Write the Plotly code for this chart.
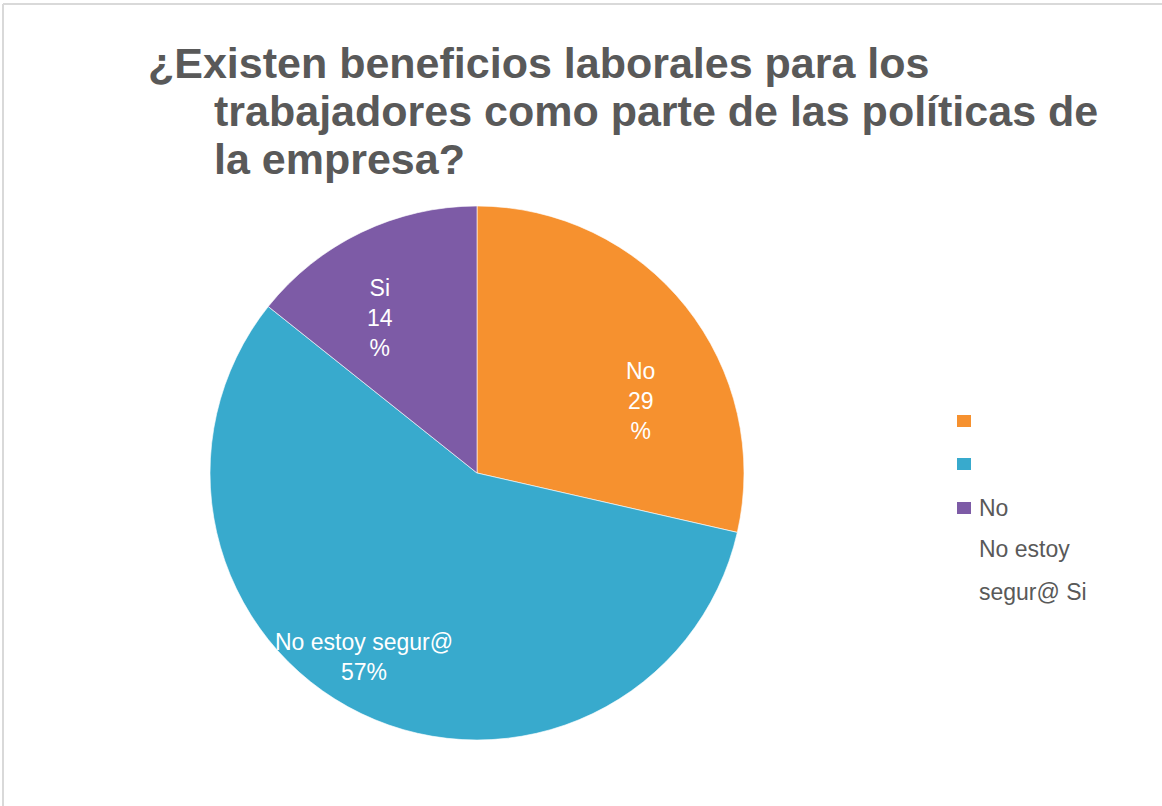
import math
import plotly.graph_objects as go

# ---- data ----
labels = ["No", "No estoy segur@", "Si"]
values = [2, 4, 1]
colors = ["#F6912F", "#38AACD", "#7D5BA6"]
title_lines = ["¿Existen beneficios laborales para los",
               "trabajadores como parte de las políticas de",
               "la empresa?"]
legend_texts = ["", "", "No", "No estoy", "segur@ Si"]

W, H = 1162, 806
CX, CY, R = 477, 473, 267

def px(x):
    return x / W

def py(y):
    return 1 - y / H

fig = go.Figure()
fig.add_trace(go.Pie(
    labels=labels, values=values, sort=False, direction="clockwise",
    rotation=0, textinfo="none", hoverinfo="label+percent",
    marker=dict(colors=colors, line=dict(color="rgba(255,255,255,0.6)", width=1)),
    domain=dict(x=[px(CX - R), px(CX + R)], y=[py(CY + R), py(CY - R)]),
    showlegend=False,
))

annotations = []
shapes = []

# slice labels, computed from the data angles
total = sum(values)
pcts = [round(v / total * 100) for v in values]
label_breaks = [True, False, True]
label_rfrac = [0.67, 0.81, 0.685]
label_dang = [14.8, 5.8, -6.3]
cum = 0
for lab, v, p, br, rf, da in zip(labels, values, pcts, label_breaks, label_rfrac, label_dang):
    mid = (cum + v / 2) / total * 360 + da
    cum += v
    x = CX + rf * R * math.sin(math.radians(mid))
    y = CY - rf * R * math.cos(math.radians(mid))
    txt = f"{lab}<br>{p}<br>%" if br else f"{lab}<br>{p}%"
    annotations.append(dict(
        x=px(x), y=py(y), xref="paper", yref="paper", text=txt,
        showarrow=False, xanchor="center", yanchor="middle", align="center",
        font=dict(family="Liberation Sans, Arial", size=23, color="white"),
    ))

# title
title_pos = [(146, 63), (212, 111), (212, 159)]
for line, (tx, ty) in zip(title_lines, title_pos):
    annotations.append(dict(
        x=px(tx), y=py(ty), xref="paper", yref="paper", text=f"<b>{line}</b>",
        showarrow=False, xanchor="left", yanchor="middle",
        font=dict(family="Liberation Sans, Arial", size=43, color="#595959"),
    ))

# legend (as drawn in the reference)
leg_y = [421, 464, 508, 549, 592]
for i, (t, ly) in enumerate(zip(legend_texts, leg_y)):
    if i < len(colors):
        shapes.append(dict(type="rect", xref="paper", yref="paper",
                           x0=px(957), x1=px(971), y0=py(ly + 6), y1=py(ly - 6),
                           fillcolor=colors[i], line=dict(color=colors[i], width=0)))
    if t:
        annotations.append(dict(
            x=px(977), y=py(ly), xref="paper", yref="paper", text=t,
            showarrow=False, xanchor="left", yanchor="middle",
            font=dict(family="Liberation Sans, Arial", size=23, color="#595959"),
        ))

# chart border (top and left)
shapes.append(dict(type="line", xref="paper", yref="paper", x0=px(3), x1=1,
                   y0=py(4), y1=py(4), line=dict(color="#D9D9D9", width=2)))
shapes.append(dict(type="line", xref="paper", yref="paper", x0=px(3), x1=px(3),
                   y0=py(4), y1=0, line=dict(color="#D9D9D9", width=2)))

fig.update_layout(
    width=W, height=H, margin=dict(l=0, r=0, t=0, b=0),
    paper_bgcolor="white", plot_bgcolor="white",
    annotations=annotations, shapes=shapes,
)
fig.write_html("out.html")
